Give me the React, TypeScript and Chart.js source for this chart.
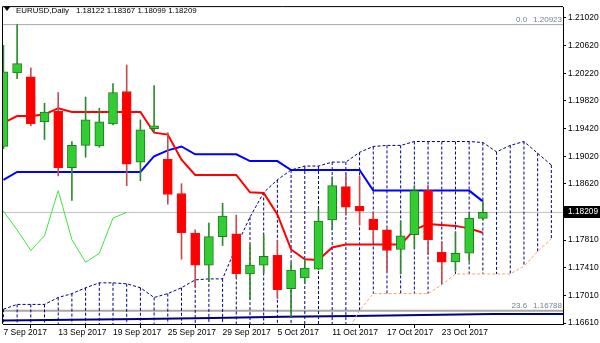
import React, { useEffect, useRef } from 'react';
import { Chart, registerables } from 'chart.js';

Chart.register(...registerables);

const symbol = 'EURUSD,Daily';
const tickLabels = ['7 Sep 2017', '13 Sep 2017', '19 Sep 2017', '25 Sep 2017', '29 Sep 2017', '5 Oct 2017', '11 Oct 2017', '17 Oct 2017', '23 Oct 2017'];
const tickBars = [0, 4, 8, 12, 16, 20, 24, 28, 32];
const yTicks = [1.1661, 1.1701, 1.1741, 1.1781, 1.1862, 1.1902, 1.1942, 1.1982, 1.2022, 1.2062, 1.2102];

const openP = [1.19162, 1.20225, 1.20169, 1.19517, 1.19673, 1.18855, 1.19177, 1.19170, 1.19489, 1.19956, 1.18936, 1.19418, 1.18978, 1.18482, 1.17910, 1.17447, 1.17858, 1.17900, 1.17319, 1.17447, 1.17588, 1.17106, 1.17262, 1.17390, 1.18099, 1.18581, 1.18298, 1.18113, 1.17957, 1.17673, 1.17886, 1.18524, 1.17631, 1.17495, 1.17620, 1.18122];
const highP = [1.20623, 1.20923, 1.20297, 1.19786, 1.19942, 1.19233, 1.19876, 1.19715, 1.20070, 1.20339, 1.19545, 1.20042, 1.19361, 1.18624, 1.17957, 1.18056, 1.18340, 1.18170, 1.17744, 1.17886, 1.17801, 1.17475, 1.17532, 1.18255, 1.18723, 1.18766, 1.18737, 1.18212, 1.17970, 1.18085, 1.18595, 1.18595, 1.17787, 1.17929, 1.18188, 1.18367];
const lowP = [1.19130, 1.20140, 1.19460, 1.19262, 1.18737, 1.18383, 1.19006, 1.19150, 1.19474, 1.18595, 1.18666, 1.19361, 1.18326, 1.17532, 1.17135, 1.17206, 1.17730, 1.17270, 1.16950, 1.17333, 1.16965, 1.16695, 1.17177, 1.17380, 1.17957, 1.18170, 1.18028, 1.17787, 1.17362, 1.17319, 1.17688, 1.17603, 1.17191, 1.17362, 1.17503, 1.18099];
const closeP = [1.20240, 1.20360, 1.19489, 1.19659, 1.18850, 1.19177, 1.19545, 1.19517, 1.19942, 1.18907, 1.19403, 1.19460, 1.18468, 1.17915, 1.17447, 1.17858, 1.18156, 1.17319, 1.17447, 1.17574, 1.17092, 1.17376, 1.17404, 1.18085, 1.18595, 1.18283, 1.18227, 1.17957, 1.17659, 1.17872, 1.18524, 1.17815, 1.17489, 1.17617, 1.18127, 1.18209];

const tenkan = [1.19503, 1.19602, 1.19602, 1.19625, 1.19715, 1.19659, 1.19659, 1.19659, 1.19659, 1.19659, 1.19659, 1.19361, 1.19333, 1.18970, 1.18751, 1.18751, 1.18751, 1.18751, 1.18500, 1.18490, 1.18180, 1.17673, 1.17532, 1.17520, 1.17702, 1.17744, 1.17744, 1.17744, 1.17744, 1.17744, 1.17957, 1.18042, 1.18028, 1.18014, 1.17978, 1.17914];
const kijun = [1.18680, 1.18794, 1.18794, 1.18794, 1.18794, 1.18794, 1.18794, 1.18794, 1.18794, 1.18794, 1.18794, 1.19021, 1.19106, 1.19162, 1.19049, 1.19049, 1.19049, 1.19049, 1.18950, 1.18950, 1.18950, 1.18822, 1.18822, 1.18822, 1.18822, 1.18822, 1.18822, 1.18524, 1.18524, 1.18524, 1.18524, 1.18524, 1.18524, 1.18524, 1.18524, 1.18368];
const chikou = [1.18227, 1.17957, 1.17659, 1.17872, 1.18524, 1.17815, 1.17489, 1.17617, 1.18127, 1.18209];
const spanA = [1.16809, 1.16879, 1.16879, 1.16879, 1.16979, 1.17035, 1.17120, 1.17191, 1.17191, 1.17177, 1.17120, 1.16979, 1.17035, 1.17120, 1.17234, 1.17248, 1.17248, 1.17716, 1.18141, 1.18496, 1.18680, 1.18822, 1.18879, 1.18879, 1.18936, 1.18936, 1.19077, 1.19162, 1.19177, 1.19177, 1.19233, 1.19233, 1.19233, 1.19233, 1.19233, 1.19219, 1.19084, 1.19177, 1.19233, 1.19063, 1.18893];
const spanB: (number | null)[] = [null, null, null, null, null, null, null, null, null, null, null, null, null, null, null, null, null, null, null, null, null, null, null, null, null, 1.16440, 1.16794, 1.17035, 1.17035, 1.17035, 1.17035, 1.17035, 1.17163, 1.17319, 1.17319, 1.17319, 1.17319, 1.17319, 1.17432, 1.17645, 1.17830];

const stepX = [-0.03, 5.01, 10.12, 15.30, 20.41, 25.52, 30.63, 35.74, 40.85];
const stepY = [1.16645, 1.16656, 1.16668, 1.16684, 1.16699, 1.16712, 1.16727, 1.16740, 1.16740];

const fiboLevels = ['0.0', '23.6'];
const fiboPrices = [1.20923, 1.16788];

const X_MIN = -0.03;
const X_MAX = 40.85;
const Y_MIN = 1.16596;
const Y_MAX = 1.21176;
const FONT = "'Liberation Sans', Arial, sans-serif";

const overlay = {
  id: 'overlay',
  afterDraw(chart: any) {
    const { ctx, chartArea: a, scales } = chart;
    const y = scales.y;
    ctx.save();
    ctx.strokeStyle = '#000';
    ctx.lineWidth = 1;
    ctx.beginPath();
    ctx.moveTo(a.left - 0.5, a.bottom);
    ctx.lineTo(a.left - 0.5, a.top - 0.5);
    ctx.lineTo(a.right, a.top - 0.5);
    ctx.stroke();

    // header
    ctx.fillStyle = '#000';
    ctx.beginPath();
    ctx.moveTo(4, 7);
    ctx.lineTo(10, 7);
    ctx.lineTo(7, 11);
    ctx.closePath();
    ctx.fill();
    ctx.font = `7.9px ${FONT}`;
    ctx.textBaseline = 'alphabetic';
    ctx.textAlign = 'left';
    ctx.fillText(symbol, 16, 12.5);
    const n = closeP.length - 1;
    const nums = [openP[n], highP[n], lowP[n], closeP[n]].map((v) => v.toFixed(5)).join(' ');
    ctx.fillText(nums, 76, 12.5);

    // fibo labels
    ctx.font = `8px ${FONT}`;
    ctx.fillStyle = '#708090';
    ctx.textAlign = 'right';
    fiboPrices.forEach((p, i) => {
      const yy = y.getPixelForValue(p);
      const s = p.toFixed(5);
      ctx.fillText(s, a.right - 1, yy - 2.5);
      const w = ctx.measureText(s).width;
      ctx.fillText(fiboLevels[i], a.right - 1 - w - 6, yy - 2.5);
    });

    // current price box
    const py = y.getPixelForValue(closeP[n]);
    ctx.fillStyle = '#000';
    ctx.fillRect(a.right + 1, Math.round(py) - 6, 36, 12);
    ctx.fillStyle = '#fff';
    ctx.textAlign = 'left';
    ctx.textBaseline = 'middle';
    ctx.font = `8.3px ${FONT}`;
    ctx.fillText(closeP[n].toFixed(5), a.right + 5, Math.round(py));
    ctx.restore();
  },
};

export default function App() {
  const ref = useRef<HTMLCanvasElement | null>(null);
  useEffect(() => {
    document.body.style.margin = '0';
    const canvas = ref.current;
    if (!canvas) return;
    const up = closeP.map((c, i) => c >= openP[i]);
    const xy = (arr: (number | null)[]) => arr.map((v, i) => ({ x: i, y: v }));
    const verts: any[] = [];
    spanA.forEach((v, i) => {
      const lo = spanB[i] ?? Y_MIN - 0.0005;
      verts.push({ x: i, y: v }, { x: i, y: lo }, { x: i, y: null });
    });
    const stepData = stepX.map((x, i) => ({ x, y: stepY[i] }));
    const lastIdx = closeP.length - 1;
    const lineDs = (data: any[], color: string, width: number, order: number, dash: number[] = []) => ({
      type: 'line',
      data,
      borderColor: color,
      borderWidth: width,
      borderDash: dash,
      pointRadius: 0,
      tension: 0,
      fill: false,
      spanGaps: false,
      order,
    });
    const chart = new Chart(canvas, {
      type: 'line',
      data: {
        datasets: [
          {
            type: 'bar',
            data: openP.map((o, i) => ({ x: i, y: [o, closeP[i]] })),
            backgroundColor: up.map((u) => (u ? '#32cd32' : '#ff0000')),
            borderColor: up.map((u) => (u ? '#1e7b1e' : '#ee1010')),
            borderWidth: 1,
            borderSkipped: false,
            barThickness: 9,
            grouped: false,
            order: 0,
          } as any,
          {
            type: 'bar',
            data: lowP.map((l, i) => ({ x: i, y: [l, highP[i]] })),
            backgroundColor: up.map((u) => (u ? '#2f8a2f' : '#c05050')),
            borderWidth: 0,
            barThickness: 1,
            grouped: false,
            order: 1,
          } as any,
          lineDs(xy(tenkan), '#ff0000', 2, 2),
          lineDs(xy(kijun), '#0000ff', 2, 3),
          lineDs(xy(chikou), '#3ce63c', 1, 4),
          lineDs(xy(spanA), '#000080', 1, 5, [3, 2]),
          lineDs(xy(spanB), '#f4a460', 1, 6, [3, 2]),
          lineDs(verts, '#000080', 1, 7, [3, 2]),
          lineDs(stepData, '#000080', 2, 8) as any,
          lineDs([{ x: X_MIN, y: fiboPrices[0] }, { x: X_MAX, y: fiboPrices[0] }], '#a8a8a8', 1, 9),
          lineDs([{ x: X_MIN, y: fiboPrices[1] }, { x: X_MAX, y: fiboPrices[1] }], '#a8a8a8', 2, 10),
          lineDs([{ x: X_MIN, y: closeP[lastIdx] }, { x: X_MAX, y: closeP[lastIdx] }], '#c0c0c0', 1, 11),
        ] as any,
      },
      options: {
        responsive: false,
        devicePixelRatio: 1,
        animation: false,
        events: [],
        layout: { padding: { left: 3, top: 1, right: 0, bottom: 0 } },
        plugins: { legend: { display: false }, tooltip: { enabled: false } },
        scales: {
          x: {
            type: 'linear',
            position: 'bottom',
            min: X_MIN,
            max: X_MAX,
            offset: false,
            grid: { display: true, drawOnChartArea: false, drawTicks: true, tickLength: 4, color: '#000' },
            border: { display: true, color: '#000' },
            ticks: {
              autoSkip: false,
              maxRotation: 0,
              minRotation: 0,
              align: 'start',
              padding: 0,
              color: '#000',
              font: { family: FONT, size: 8.5 },
              callback: (v: any) => {
                const k = tickBars.indexOf(Number(v));
                return k >= 0 ? tickLabels[k] : '';
              },
            },
            afterBuildTicks: (s: any) => {
              s.ticks = tickBars.map((v) => ({ value: v }));
            },
            afterFit: (s: any) => {
              s.height = 19;
            },
          },
          y: {
            type: 'linear',
            position: 'right',
            min: Y_MIN,
            max: Y_MAX,
            grid: { display: true, drawOnChartArea: false, drawTicks: true, tickLength: 3, color: '#000' },
            border: { display: true, color: '#000' },
            ticks: {
              autoSkip: false,
              padding: 2,
              color: '#000',
              font: { family: FONT, size: 8.5 },
              callback: (v: any) => Number(v).toFixed(5),
            },
            afterBuildTicks: (s: any) => {
              s.ticks = yTicks.map((v) => ({ value: v }));
            },
            afterFit: (s: any) => {
              s.width = 37;
            },
          },
        },
      } as any,
      plugins: [overlay],
    });
    return () => chart.destroy();
  }, []);
  return (
    <div style={{ position: 'absolute', left: 0, top: 0, width: 600, height: 343, background: '#fff' }}>
      <canvas ref={ref} width={600} height={343} style={{ display: 'block', width: 600, height: 343 }} />
    </div>
  );
}
